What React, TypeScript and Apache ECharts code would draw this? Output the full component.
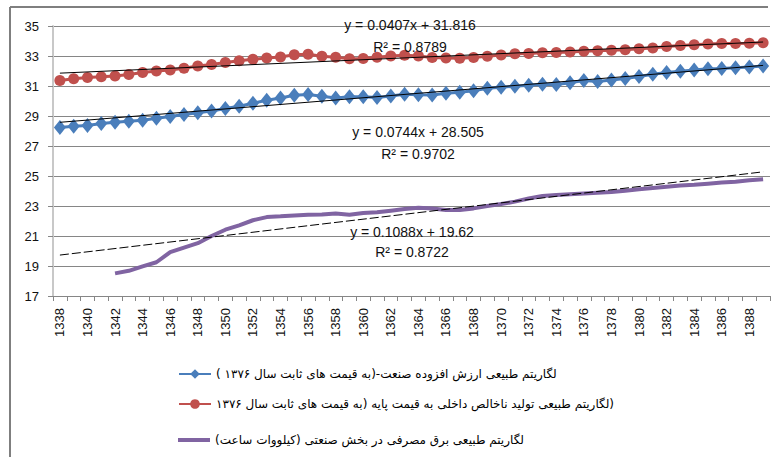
import React, { useEffect, useRef } from "react";
import * as echarts from "echarts";

const years = [
  "1338", "1339", "1340", "1341", "1342", "1343", "1344", "1345", "1346", "1347",
  "1348", "1349", "1350", "1351", "1352", "1353", "1354", "1355", "1356", "1357",
  "1358", "1359", "1360", "1361", "1362", "1363", "1364", "1365", "1366", "1367",
  "1368", "1369", "1370", "1371", "1372", "1373", "1374", "1375", "1376", "1377",
  "1378", "1379", "1380", "1381", "1382", "1383", "1384", "1385", "1386", "1387",
  "1388", "1389",
];

// log of industry value added (blue diamonds)
const industryValueAdded = [
  28.23, 28.31, 28.36, 28.5, 28.58, 28.65, 28.72, 28.85, 28.96, 29.1,
  29.22, 29.33, 29.5, 29.65, 29.85, 30.05, 30.2, 30.38, 30.44, 30.32,
  30.2, 30.28, 30.28, 30.24, 30.33, 30.45, 30.42, 30.4, 30.52, 30.58,
  30.68, 30.85, 30.92, 30.98, 31.05, 31.12, 31.1, 31.22, 31.36, 31.3,
  31.4, 31.5, 31.64, 31.78, 31.9, 31.98, 32.07, 32.15, 32.16, 32.22,
  32.27, 32.33,
];

// log of GDP (red circles)
const gdp = [
  31.37, 31.49, 31.57, 31.62, 31.67, 31.76, 31.9, 32.0, 32.07, 32.18,
  32.33, 32.44, 32.56, 32.69, 32.78, 32.86, 32.93, 33.09, 33.12, 32.98,
  32.92, 32.82, 32.83, 32.92, 33.0, 33.05, 33.0, 32.9, 32.86, 32.85,
  32.9, 32.98, 33.06, 33.15, 33.17, 33.21, 33.23, 33.27, 33.31, 33.35,
  33.38, 33.42, 33.48, 33.54, 33.63, 33.7, 33.75, 33.8, 33.84, 33.84,
  33.85, 33.89,
];

// log of industrial electricity consumption (purple line)
const electricity = [
  null, null, null, null, 18.51, 18.68, 18.98, 19.25, 19.92, 20.23,
  20.52, 21.0, 21.42, 21.71, 22.05, 22.26, 22.31, 22.37, 22.41, 22.44,
  22.5, 22.42, 22.53, 22.58, 22.69, 22.8, 22.89, 22.84, 22.73, 22.73,
  22.84, 23.0, 23.13, 23.29, 23.5, 23.67, 23.74, 23.79, 23.84, 23.89,
  23.93, 24.02, 24.11, 24.2, 24.29, 24.36, 24.42, 24.49, 24.56, 24.62,
  24.71, 24.78,
];

const seriesNames = [
  "لگاریتم طبیعی ارزش افزوده صنعت-(به قیمت های ثابت سال ۱۳۷۶ )",
  "(لگاریتم طبیعی تولید ناخالص داخلی به قیمت پایه (به قیمت های ثابت سال ۱۳۷۶",
  "لگاریتم طبیعی برق مصرفی در بخش صنعتی (کیلووات ساعت)",
];
const seriesColors = ["#4A7EBB", "#C0504D", "#8064A2"];

// trend lines (x = 1..n) as printed on the chart: blue, red, purple
const trendSlopes = [0.0744, 0.0407, 0.1088];
const trendIntercepts = [28.505, 31.816, 19.62];
const trendEquations = ["y = 0.0744x + 28.505", "y = 0.0407x + 31.816", "y = 0.1088x + 19.62"];
const trendR2 = ["R² = 0.9702", "R² = 0.8789", "R² = 0.8722"];

export default function App() {
  const ref = useRef<HTMLDivElement>(null);

  useEffect(() => {
    if (!ref.current) return;
    const chart = echarts.init(ref.current, null, { renderer: "svg" });
    const n = years.length;
    const trendData = (k: number) =>
      years.map((_, i) =>
        i === 0 || i === n - 1 ? +(trendSlopes[k] * (i + 1) + trendIntercepts[k]).toFixed(4) : null
      );

    const labelFont = { fontFamily: "Liberation Sans, Arial, sans-serif", fontSize: 14, fill: "#111" };
    const labelPos = [
      { x: 418, y1: 132, y2: 154 },
      { x: 410, y1: 25, y2: 47 },
      { x: 412, y1: 232, y2: 252 },
    ];
    const graphics: any[] = [
      { type: "line", shape: { x1: 10, y1: 7, x2: 768, y2: 7 }, style: { stroke: "#7f7f7f", lineWidth: 2 } },
      { type: "line", shape: { x1: 10, y1: 7, x2: 10, y2: 457 }, style: { stroke: "#7f7f7f", lineWidth: 2 } },
    ];
    labelPos.forEach((p, k) => {
      graphics.push({
        type: "text", x: p.x, y: p.y1, z: 10,
        style: { ...labelFont, text: trendEquations[k], align: "center", verticalAlign: "middle" },
      });
      graphics.push({
        type: "text", x: p.x, y: p.y2, z: 10,
        style: { ...labelFont, text: trendR2[k], align: "center", verticalAlign: "middle" },
      });
    });

    const legendTops = [363, 393, 425];

    chart.setOption({
      animation: false,
      grid: { left: 53, right: 6, top: 26, height: 270 },
      legend: seriesNames.map((name, k) => ({
        data: [k === 2 ? { name, icon: "rect" } : name],
        left: 173,
        top: k === 2 ? legendTops[k] + 4 : legendTops[k],
        itemWidth: 32,
        itemHeight: k === 2 ? 4 : 12,
        selectedMode: false,
        formatter: (s: string) => "\u200F" + s + "\u200F",
        textStyle: { fontFamily: "DejaVu Sans", fontSize: 12, color: "#000" },
      })),
      xAxis: {
        type: "category",
        data: years,
        boundaryGap: true,
        axisLine: { lineStyle: { color: "#868686", width: 1 } },
        axisTick: { show: true, interval: 0, length: 5, lineStyle: { color: "#868686" } },
        axisLabel: {
          interval: 1, rotate: 90, margin: 12, fontSize: 13,
          fontFamily: "Liberation Sans, Arial, sans-serif", color: "#111",
        },
        splitLine: { show: false },
      },
      yAxis: {
        type: "value",
        min: 17, max: 35, interval: 2,
        axisLine: { show: true, lineStyle: { color: "#c8c8c8", width: 2 } },
        axisTick: { show: true, length: 5, lineStyle: { color: "#868686" } },
        axisLabel: { margin: 14, fontSize: 13, fontFamily: "Liberation Sans, Arial, sans-serif", color: "#111" },
        splitLine: { lineStyle: { color: "#868686", width: 1 } },
      },
      graphic: graphics,
      series: [
        {
          name: seriesNames[0], type: "line", data: industryValueAdded,
          symbol: "diamond", symbolSize: [12, 15], showAllSymbol: true, z: 3,
          itemStyle: { color: seriesColors[0] }, lineStyle: { color: seriesColors[0], width: 3 },
        },
        {
          name: seriesNames[1], type: "line", data: gdp,
          symbol: "circle", symbolSize: 11, showAllSymbol: true, z: 3,
          itemStyle: { color: seriesColors[1] }, lineStyle: { color: seriesColors[1], width: 3 },
        },
        {
          name: seriesNames[2], type: "line", data: electricity,
          symbol: "none", z: 3,
          itemStyle: { color: seriesColors[2] }, lineStyle: { color: seriesColors[2], width: 4 },
        },
        ...[0, 1, 2].map((k) => ({
          name: "trend" + k, type: "line", data: trendData(k), connectNulls: true,
          symbol: "none", silent: true, z: 6,
          lineStyle: { color: "#000", width: 1, type: k === 2 ? [9, 3] : "solid" },
        })),
      ],
    });
    return () => chart.dispose();
  }, []);

  return <div ref={ref} style={{ position: "fixed", left: 0, top: 0, width: 776, height: 457, background: "#fff" }} />;
}
